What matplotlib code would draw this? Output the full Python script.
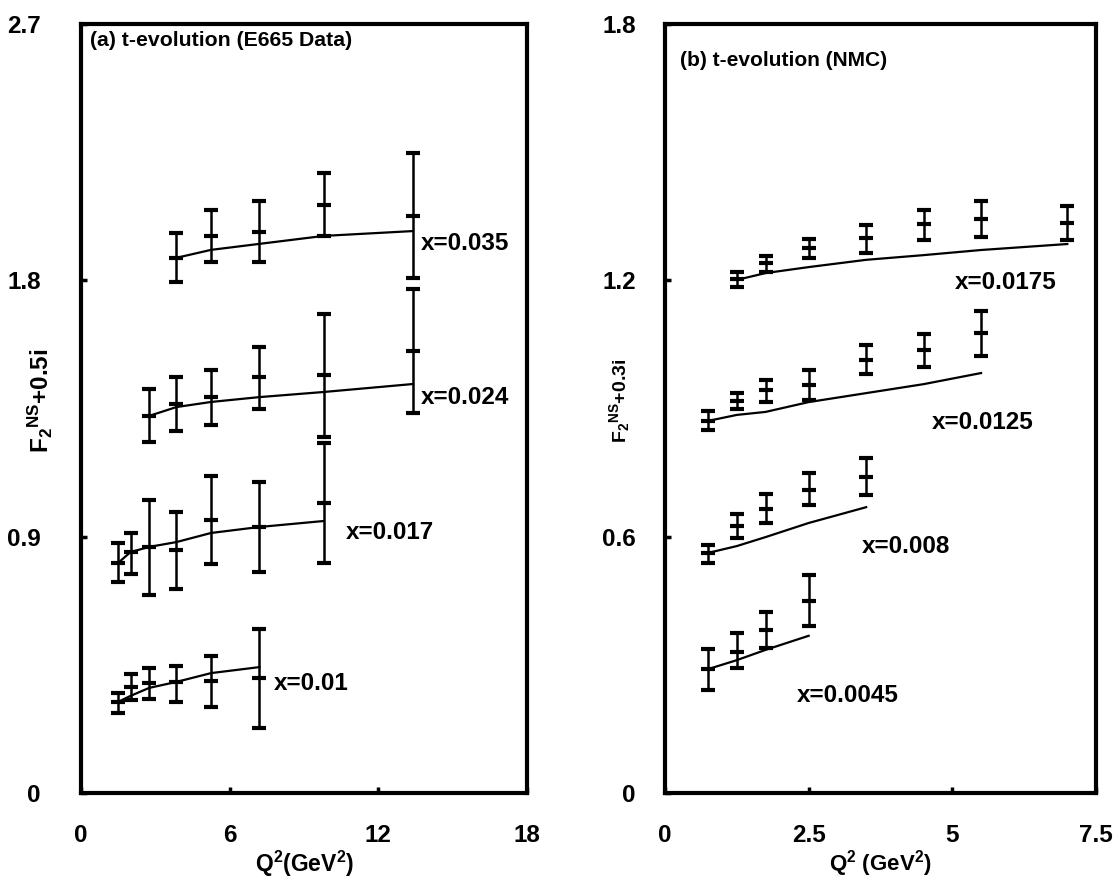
import matplotlib
matplotlib.use("Agg")
import matplotlib.pyplot as plt
import numpy as np

plt.rcParams['font.family'] = ['Liberation Sans', 'DejaVu Sans']
plt.rcParams['font.weight'] = 'bold'
plt.rcParams['mathtext.fontset'] = 'custom'
plt.rcParams['mathtext.rm'] = 'Liberation Sans:bold'
plt.rcParams['mathtext.it'] = 'Liberation Sans:bold'
plt.rcParams['mathtext.bf'] = 'Liberation Sans:bold'

# ---------------- Panel (a): E665 ----------------
a_labels = ["x=0.035", "x=0.024", "x=0.017", "x=0.01"]
a_q2 = [
    [3.85, 5.25, 7.2, 9.8, 13.4],
    [2.75, 3.85, 5.25, 7.2, 9.8, 13.4],
    [1.5, 2.0, 2.75, 3.85, 5.25, 7.2, 9.8],
    [1.5, 2.0, 2.75, 3.85, 5.25, 7.2],
]
a_val = [
    [1.879, 1.956, 1.970, 2.065, 2.026],
    [1.324, 1.366, 1.390, 1.461, 1.468, 1.552],
    [0.808, 0.846, 0.864, 0.853, 0.959, 0.934, 1.018],
    [0.320, 0.372, 0.386, 0.390, 0.393, 0.404],
]
a_top = [
    [1.966, 2.047, 2.079, 2.177, 2.247],
    [1.419, 1.461, 1.485, 1.566, 1.682, 1.770],
    [0.878, 0.913, 1.029, 0.987, 1.113, 1.092, 1.229],
    [0.351, 0.418, 0.439, 0.446, 0.481, 0.576],
]
a_bot = [
    [1.794, 1.864, 1.864, 1.956, 1.808],
    [1.232, 1.271, 1.292, 1.348, 1.250, 1.334],
    [0.741, 0.769, 0.695, 0.716, 0.804, 0.776, 0.808],
    [0.281, 0.327, 0.330, 0.320, 0.302, 0.228],
]
a_fit = [
    [1.879, 1.907, 1.928, 1.956, 1.973],
    [1.324, 1.355, 1.373, 1.390, 1.408, 1.436],
    [0.808, 0.846, 0.864, 0.881, 0.913, 0.934, 0.955],
    [0.320, 0.341, 0.369, 0.390, 0.421, 0.442],
]
a_lab_pos = [(13.7, 1.931), (13.7, 1.387), (10.7, 0.916), (7.8, 0.386)]

# ---------------- Panel (b): NMC ----------------
b_labels = ["x=0.0175", "x=0.0125", "x=0.008", "x=0.0045"]
b_q2 = [
    [1.25, 1.75, 2.5, 3.5, 4.5, 5.5, 7.0],
    [0.75, 1.25, 1.75, 2.5, 3.5, 4.5, 5.5],
    [0.75, 1.25, 1.75, 2.5, 3.5],
    [0.75, 1.25, 1.75, 2.5],
]
b_val = [
    [1.203, 1.241, 1.276, 1.299, 1.332, 1.344, 1.334],
    [0.871, 0.918, 0.943, 0.955, 1.014, 1.037, 1.077],
    [0.562, 0.625, 0.665, 0.709, 0.740],
    [0.290, 0.330, 0.382, 0.449],
]
b_top = [
    [1.220, 1.257, 1.297, 1.330, 1.365, 1.386, 1.374],
    [0.894, 0.936, 0.967, 0.990, 1.049, 1.074, 1.128],
    [0.580, 0.653, 0.700, 0.749, 0.784],
    [0.337, 0.375, 0.424, 0.510],
]
b_bot = [
    [1.185, 1.220, 1.252, 1.264, 1.294, 1.302, 1.294],
    [0.850, 0.899, 0.915, 0.920, 0.981, 0.997, 1.023],
    [0.538, 0.597, 0.632, 0.674, 0.698],
    [0.241, 0.293, 0.339, 0.391],
]
b_fit = [
    [1.201, 1.217, 1.231, 1.248, 1.259, 1.271, 1.285],
    [0.871, 0.885, 0.892, 0.915, 0.936, 0.957, 0.983],
    [0.562, 0.578, 0.599, 0.632, 0.669],
    [0.290, 0.311, 0.335, 0.368],
]
b_lab_pos = [(5.04, 1.194), (4.64, 0.868), (3.43, 0.576), (2.30, 0.229)]

a_xticks = [0, 6, 12, 18]
a_yticks = [0, 0.9, 1.8, 2.7]
a_ytick_labels = ["0", "0.9", "1.8", "2.7"]
b_xticks = [0, 2.5, 5, 7.5]
b_xtick_labels = ["0", "2.5", "5", "7.5"]
b_yticks = [0, 0.6, 1.2, 1.8]
b_ytick_labels = ["0", "0.6", "1.2", "1.8"]

W, H = 1118, 883
fig = plt.figure(figsize=(W / 100, H / 100), dpi=100)
axA = fig.add_axes([81 / W, 1 - 793 / H, (527 - 81) / W, (793 - 24) / H])
axB = fig.add_axes([665 / W, 1 - 793 / H, (1096 - 665) / W, (793 - 24) / H])


def draw(ax, q2s, vals, tops, bots, fits, labels, lab_pos):
    for q, v, t, b, f, lab, lp in zip(q2s, vals, tops, bots, fits, labels, lab_pos):
        q = np.array(q); v = np.array(v); t = np.array(t); b = np.array(b)
        ax.plot(q, f, color='black', lw=1.6, zorder=2)
        ax.errorbar(q, v, yerr=[v - b, t - v], fmt='_', color='black',
                    ms=10, mew=3, elinewidth=1.8, capsize=5, capthick=3, zorder=3)
        ax.text(lp[0], lp[1], lab, ha='left', va='center', fontsize=17.5,
                fontweight='bold')


draw(axA, a_q2, a_val, a_top, a_bot, a_fit, a_labels, a_lab_pos)
draw(axB, b_q2, b_val, b_top, b_bot, b_fit, b_labels, b_lab_pos)

axA.set_xlim(0, 18); axA.set_ylim(0, 2.7)
axB.set_xlim(0, 7.5); axB.set_ylim(0, 1.8)
axA.set_xticks(a_xticks); axA.set_xticklabels([str(v) for v in a_xticks])
axA.set_yticks(a_yticks); axA.set_yticklabels(a_ytick_labels)
axB.set_xticks(b_xticks); axB.set_xticklabels(b_xtick_labels)
axB.set_yticks(b_yticks); axB.set_yticklabels(b_ytick_labels)

for ax, ypad in ((axA, 29), (axB, 21)):
    for s in ax.spines.values():
        s.set_linewidth(3)
    ax.tick_params(axis='both', direction='in', length=4, width=2.5,
                   labelsize=17.5)
    ax.tick_params(axis='y', pad=ypad)
    ax.tick_params(axis='x', pad=22)
    for lbl in ax.get_xticklabels() + ax.get_yticklabels():
        lbl.set_fontweight('bold')

axA.text(0.02, 0.979, "(a) t-evolution (E665 Data)", transform=axA.transAxes,
         ha='left', va='center', fontsize=15.3, fontweight='bold')
axB.text(0.035, 0.952, "(b) t-evolution (NMC)", transform=axB.transAxes,
         ha='left', va='center', fontsize=15, fontweight='bold')

axA.set_xlabel(r"Q$^2$(GeV$^2$)", fontsize=16.5, fontweight='bold')
axB.set_xlabel(r"Q$^2$ (GeV$^2$)", fontsize=16, fontweight='bold')
axA.xaxis.set_label_coords(0.502, -0.072)
axB.xaxis.set_label_coords(0.50, -0.072)
axA.set_ylabel(r"F$_2$$^{\rm NS}$+0.5i", fontsize=17.5, fontweight='bold')
axB.set_ylabel(r"F$_2$$^{\rm NS}$+0.3i", fontsize=14, fontweight='bold')
axA.yaxis.set_label_coords(-0.058, 0.51)
axB.yaxis.set_label_coords(-0.077, 0.51)

fig.canvas.draw()
# report positions of tick labels for checking
r = fig.canvas.get_renderer()
for t in axA.get_xticklabels()[:1]:
    bb = t.get_window_extent(r)
    print("xtick0 bbox (top-left origin y):", bb.x0, H - bb.y1, H - bb.y0)
print("xlabel bbox:", axA.xaxis.label.get_window_extent(r))

fig.savefig("out.png", dpi=100)
